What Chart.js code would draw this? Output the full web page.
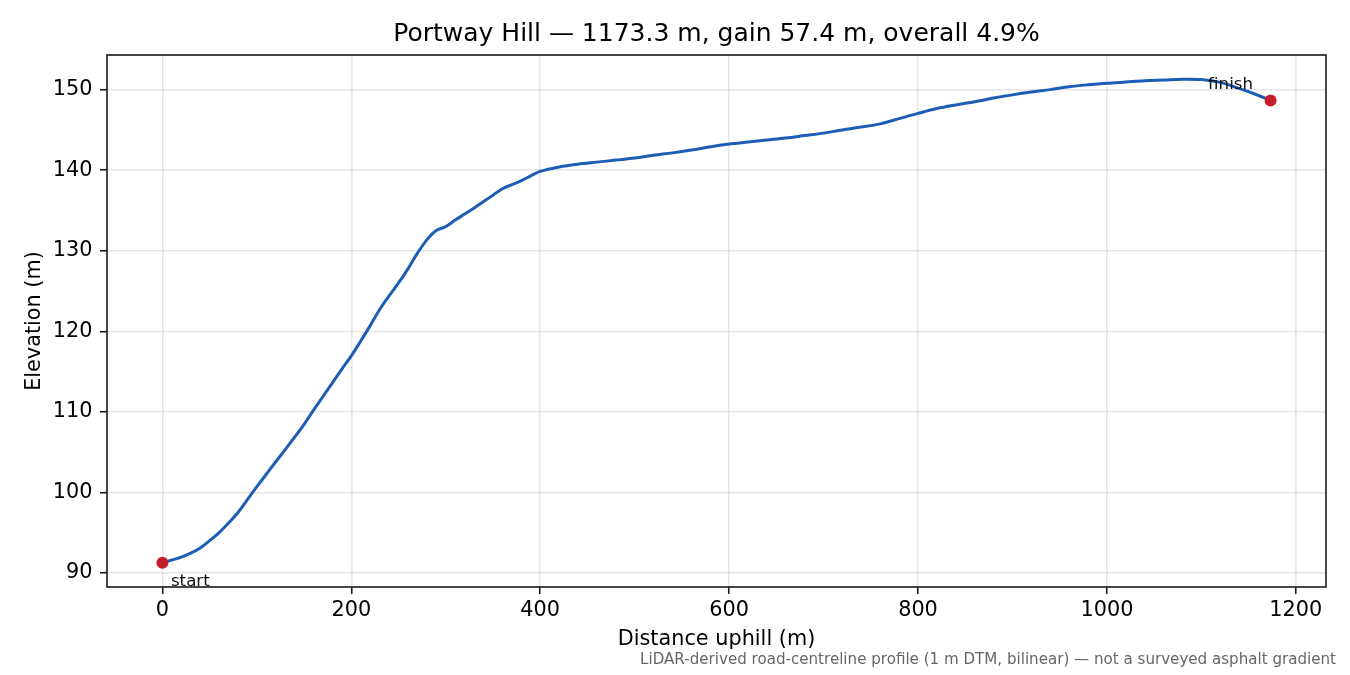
<!DOCTYPE html>
<html>
<head>
<meta charset="utf-8">
<script src="https://cdn.jsdelivr.net/npm/chart.js@4/dist/chart.umd.min.js"></script>
<style>
  html, body { margin: 0; padding: 0; background: #ffffff; }
  #wrap { width: 1350px; height: 675px; }
</style>
</head>
<body>
<div id="wrap"><canvas id="c" width="1350" height="675"></canvas></div>
<script>
const titleText = "Portway Hill \u2014 1173.3 m, gain 57.4 m, overall 4.9%";
const xTitle = "Distance uphill (m)";
const yTitle = "Elevation (m)";
const footnote = "LiDAR-derived road-centreline profile (1 m DTM, bilinear) \u2014 not a surveyed asphalt gradient";

const distances = [0,10,20,30,40,50,60,70,80,90,100,110,120,130,140,150,160,170,180,190,200,
  210,220,230,240,250,260,270,280,290,300,310,320,330,340,350,360,370,380,390,400,
  420,440,460,480,500,520,540,560,580,600,620,640,660,680,700,720,740,760,780,800,
  820,840,860,880,900,920,940,960,980,1000,1020,1040,1060,1080,1100,1120,1140,1160,1173.3];
const elevations = [91.25,91.6,91.95,92.45,93.1,94.0,95.0,96.2,97.5,99.1,100.7,
  102.25,103.8,105.3,106.85,108.45,110.2,111.9,113.6,115.3,116.95,
  118.8,120.7,122.7,124.4,126.0,127.75,129.7,131.35,132.5,133.0,
  133.8,134.55,135.3,136.1,136.9,137.7,138.2,138.7,139.3,139.85,
  140.4,140.75,141.0,141.25,141.5,141.85,142.15,142.5,142.9,143.25,
  143.5,143.75,144.0,144.3,144.6,145.0,145.35,145.75,146.4,147.05,
  147.65,148.1,148.5,148.95,149.35,149.7,150.0,150.35,150.6,150.8,
  150.95,151.1,151.2,151.3,151.25,150.9,150.15,149.3,148.65];

const markerLabels = ["start", "finish"];
const markerDist = [0, 1173.3];
const markerElev = [91.25, 148.65];

const xTicks = [0,200,400,600,800,1000,1200];
const yTicks = [90,100,110,120,130,140,150];

const FONT = "'DejaVu Sans', sans-serif";

const profile = distances.map((d, i) => ({x: d, y: elevations[i]}));
const markers = markerDist.map((d, i) => ({x: d, y: markerElev[i]}));

const xMin = -58.665, xMax = 1231.965;
const yMin = 88.25, yMax = 154.3;

const decor = {
  id: 'decor',
  afterDatasetsDraw(chart) {
    const {ctx, chartArea: a, scales} = chart;
    ctx.save();
    ctx.strokeStyle = '#1a1a1a';
    ctx.lineWidth = 1.6;
    ctx.strokeRect(a.left, a.top, a.right - a.left, a.bottom - a.top);
    ctx.fillStyle = '#111';
    ctx.font = "16.7px " + FONT;
    ctx.textBaseline = 'alphabetic';
    ctx.textAlign = 'left';
    const sx = scales.x.getPixelForValue(markerDist[0]);
    const sy = scales.y.getPixelForValue(markerElev[0]);
    ctx.fillText(markerLabels[0], sx + 8.5, sy + 23.5);
    const fx = scales.x.getPixelForValue(markerDist[1]);
    const fy = scales.y.getPixelForValue(markerElev[1]);
    ctx.fillText(markerLabels[1], fx - 62.5, fy - 12);
    ctx.restore();
  },
  afterDraw(chart) {
    const {ctx, chartArea: a} = chart;
    ctx.save();
    ctx.fillStyle = '#000';
    ctx.font = "25px " + FONT;
    ctx.textAlign = 'center';
    ctx.textBaseline = 'middle';
    ctx.fillText(titleText, (a.left + a.right) / 2, 34);
    ctx.fillStyle = '#666666';
    ctx.font = "15.1px " + FONT;
    ctx.textAlign = 'right';
    ctx.fillText(footnote, 1336, 660);
    ctx.restore();
  }
};

Chart.defaults.font.family = FONT;
Chart.defaults.color = '#000';

new Chart(document.getElementById('c'), {
  type: 'line',
  data: {
    datasets: [
      {
        type: 'scatter',
        data: markers,
        pointRadius: 6,
        pointHoverRadius: 6,
        pointBackgroundColor: '#c41e2a',
        pointBorderColor: '#c41e2a',
        pointBorderWidth: 0,
        showLine: false,
        order: 0
      },
      {
        type: 'line',
        data: profile,
        borderColor: '#1c5db5',
        borderWidth: 3,
        pointRadius: 0,
        fill: false,
        tension: 0.35,
        order: 1
      }
    ]
  },
  options: {
    responsive: false,
    devicePixelRatio: 1,
    animation: false,
    events: [],
    layout: { padding: { left: 0, right: 24, top: 55, bottom: 0 } },
    plugins: {
      legend: { display: false },
      title: { display: false },
      tooltip: { enabled: false }
    },
    scales: {
      x: {
        type: 'linear',
        min: xMin, max: xMax,
        afterBuildTicks: s => { s.ticks = xTicks.map(v => ({value: v})); },
        afterFit: s => { s.height = 88; },
        ticks: { autoSkip: false, maxRotation: 0, padding: 4, font: { size: 20.8 }, color: '#000',
                 callback: v => String(v) },
        grid: { color: 'rgba(176,176,176,0.32)', lineWidth: 1.5, drawTicks: true, tickLength: 7, tickColor: '#1a1a1a', tickWidth: 1.6 },
        border: { display: false },
        title: { display: true, text: xTitle, font: { size: 20.8 }, color: '#000', padding: { top: 0, bottom: 22.5 } }
      },
      y: {
        type: 'linear',
        min: yMin, max: yMax,
        afterBuildTicks: s => { s.ticks = yTicks.map(v => ({value: v})); },
        afterFit: s => { s.width = 107; },
        ticks: { autoSkip: false, padding: 7.5, font: { size: 20.8 }, color: '#000',
                 callback: v => String(v) },
        grid: { color: 'rgba(176,176,176,0.32)', lineWidth: 1.5, drawTicks: true, tickLength: 7, tickColor: '#1a1a1a', tickWidth: 1.6 },
        border: { display: false },
        title: { display: true, text: yTitle, font: { size: 20.8 }, color: '#000', padding: { top: 22, bottom: 0 } }
      }
    }
  },
  plugins: [decor]
});
</script>
</body>
</html>
